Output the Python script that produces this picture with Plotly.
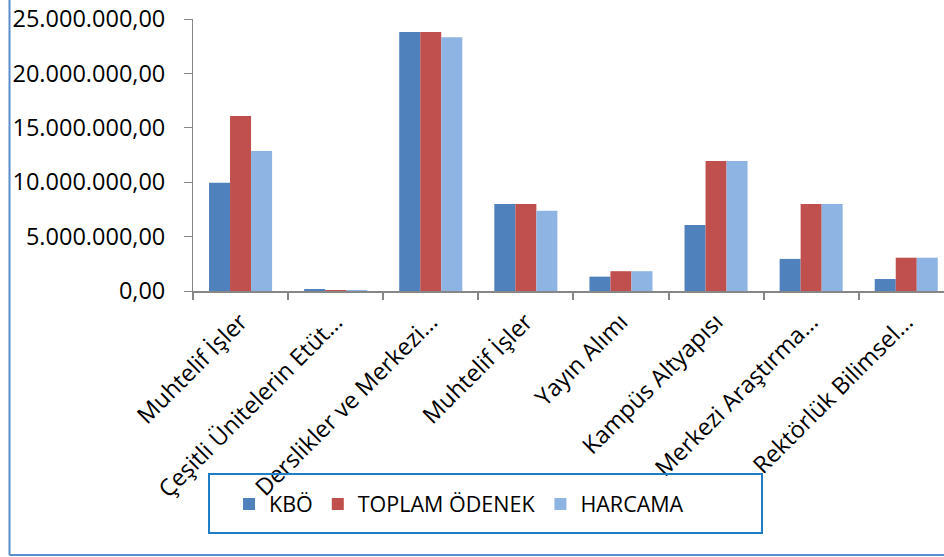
import plotly.graph_objects as go

categories = ["Muhtelif İşler", "Çeşitli Ünitelerin Etüt…", "Derslikler ve Merkezi…",
              "Muhtelif İşler", "Yayın Alımı", "Kampüs Altyapısı",
              "Merkezi Araştırma…", "Rektörlük Bilimsel…"]
kbo = [9950000, 150000, 23800000, 8000000, 1320000, 6070000, 2950000, 1100000]
toplam_odenek = [16080000, 50000, 23800000, 8000000, 1820000, 11950000, 8000000, 3060000]
harcama = [12870000, 30000, 23320000, 7380000, 1820000, 11950000, 8000000, 3060000]
series_names = ["KBÖ", "TOPLAM ÖDENEK", "HARCAMA"]
series_colors = ["#4F81BD", "#C0504D", "#8EB4E3"]
y_ticks = [0, 5000000, 10000000, 15000000, 20000000, 25000000]

W, H = 944, 557
ML, MR, MT, MB = 193, 0, 19, 266
PW, PH = W - ML - MR, H - MT - MB

def px_x(px):
    return (px - ML) / PW

def px_y(py):
    return (H - MB - py) / PH

xs = list(range(len(categories)))
fig = go.Figure()
for name, vals, col in zip(series_names, [kbo, toplam_odenek, harcama], series_colors):
    fig.add_trace(go.Bar(x=xs, y=vals, name=name, marker_color=col,
                         marker_line_width=0))

FONT = "Open Sans"
cat_spacing = 95.1
fig.update_layout(
    width=W, height=H,
    margin=dict(l=ML, r=MR, t=MT, b=MB, pad=0),
    paper_bgcolor="white", plot_bgcolor="white",
    separators=",.",
    barmode="group", bargap=0.337, bargroupgap=0,
    font=dict(family=FONT, size=23, color="black"),
    showlegend=True,
    legend=dict(orientation="h", x=px_x(229), xanchor="left", y=px_y(504), yanchor="middle",
                bgcolor="rgba(0,0,0,0)", borderwidth=0, font=dict(family=FONT, size=21.5),
                traceorder="normal"),
    xaxis=dict(range=[-0.5, -0.5 + PW / cat_spacing], tickmode="array", tickvals=xs,
               ticktext=categories, tickangle=-45, ticks="", showline=True,
               linecolor="#868686", linewidth=1.5, showgrid=False, zeroline=False,
               ticklabelstandoff=6,
               tickfont=dict(family=FONT, size=23.5, color="black"),
               minor=dict(tickmode="linear", tick0=-0.5, dtick=1, ticks="outside",
                          ticklen=7, tickcolor="#868686", tickwidth=1.5, showgrid=False)),
    yaxis=dict(range=[0, 25000000], tickmode="array", tickvals=y_ticks,
               tickformat=",.2f", ticks="outside", ticklen=8, tickcolor="#868686",
               tickwidth=1, showline=True, linecolor="#868686", linewidth=1,
               showgrid=False, zeroline=False, ticklabelstandoff=14,
               tickfont=dict(family=FONT, size=23.5, color="black")),
    shapes=[
        dict(type="rect", xref="paper", yref="paper",
             x0=px_x(209), x1=px_x(762), y0=px_y(474), y1=px_y(533),
             line=dict(color="#1F7DC8", width=2), fillcolor="rgba(0,0,0,0)"),
        dict(type="line", xref="paper", yref="paper",
             x0=px_x(9.5), x1=px_x(9.5), y0=px_y(0), y1=px_y(555),
             line=dict(color="#5B8CCB", width=2)),
        dict(type="line", xref="paper", yref="paper",
             x0=px_x(9.5), x1=px_x(944), y0=px_y(555), y1=px_y(555),
             line=dict(color="#5B8CCB", width=2)),
    ],
)

fig.write_html("out.html", config={"displayModeBar": False},
               post_script="document.body.style.margin='0';")
